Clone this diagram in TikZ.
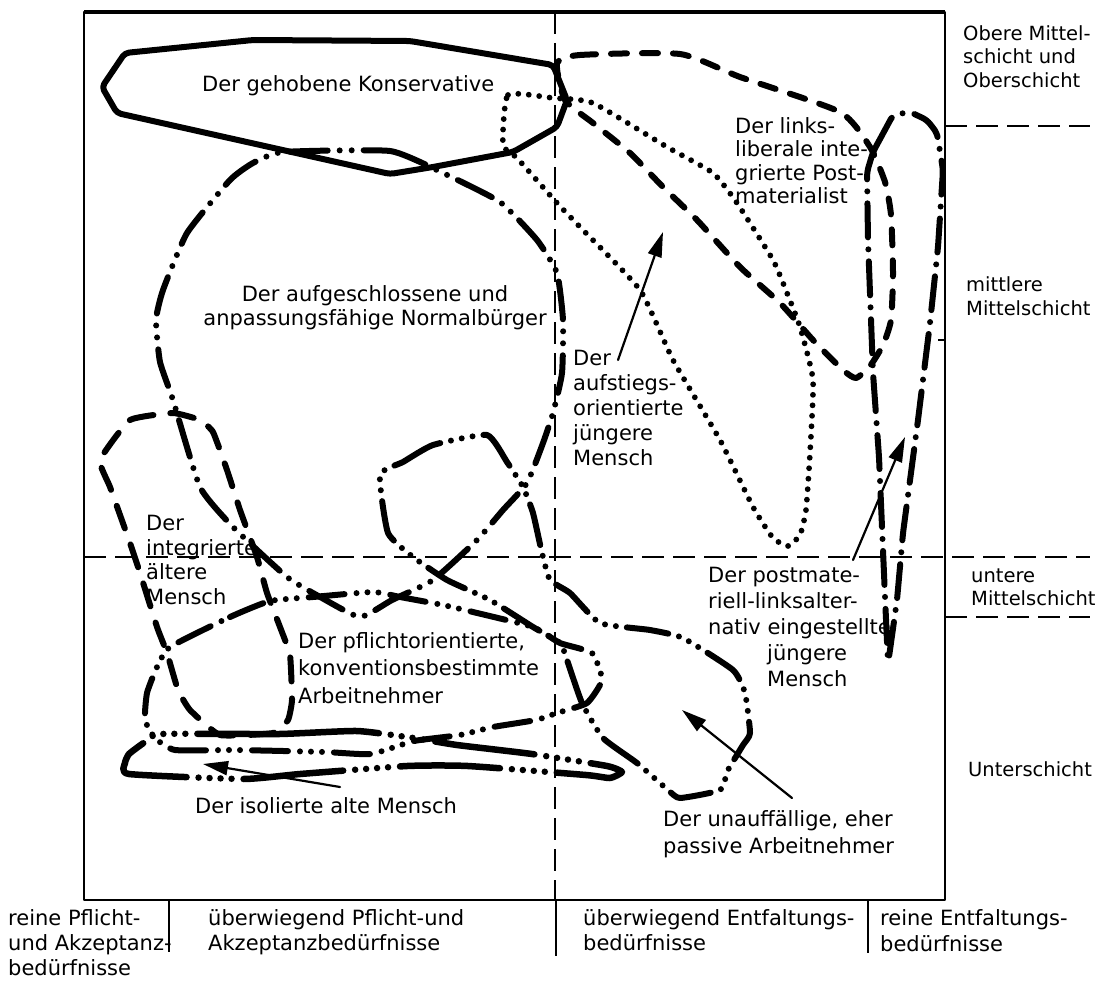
\documentclass[tikz,border=0pt]{standalone}
\usepackage{fontspec}
\setmainfont{DejaVu Sans}
\usetikzlibrary{arrows.meta}
\begin{document}
\begin{tikzpicture}[x=1pt,y=-1pt,line cap=round,line join=round]
\tikzset{
  framebox/.style={line width=2.2pt,line cap=butt},
  axisline/.style={line width=1.8pt,line cap=butt,dash pattern=on 22pt off 9pt},
  sepline/.style={line width=1.7pt,line cap=butt},
  konserv/.style={line width=6pt},
  linkslib/.style={line width=6pt,dash pattern=on 16pt off 15pt},
  aufstieg/.style={line width=5.8pt,dash pattern=on 0pt off 10.5pt},
  normalb/.style={line width=6pt,dash pattern=on 38pt off 12pt on 0pt off 12pt on 0pt off 12pt},
  postmat/.style={line width=6pt,dash pattern=on 34pt off 12pt on 0pt off 12pt},
  integr/.style={line width=6pt,dash pattern=on 24pt off 17pt},
  pflicht/.style={line width=6pt,dash pattern=on 36pt off 12pt on 0pt off 11pt on 0pt off 11pt on 0pt off 12pt},
  isoliert/.style={line width=6.5pt,dash pattern=on 100pt off 12pt on 0pt off 11pt on 0pt off 11pt on 0pt off 11pt on 0pt off 12pt},
  unauff/.style={line width=6pt,dash pattern=on 42pt off 11pt on 0pt off 11pt on 0pt off 11pt on 0pt off 11pt},
  pointer/.style={line width=2.2pt,-{Triangle[length=25pt,width=14pt]}},
  lbl/.style={inner sep=0pt,anchor=north west,align=left,font=\fontsize{21}{24.5}\selectfont},
  sidelbl/.style={lbl,font=\fontsize{19.5}{23.5}\selectfont},
}
\useasboundingbox (0,0) rectangle (1102,982);

% frame and axes
\draw[framebox] (84,12) rectangle (945,900);
\draw[line width=3.2pt,line cap=butt] (84,12) -- (945,12);
\coordinate (vtop) at (555,12);
\coordinate (vbot) at (555,900);
\coordinate (hleft) at (84,557);
\coordinate (hright) at (1090,557);
\draw[axisline] (vtop) -- (vbot);
\draw[axisline] (hleft) -- (hright);
\draw[axisline] (945,126) -- (1090,126);
\draw[axisline] (945,617) -- (1090,617);
\draw[sepline] (938,340) -- (945,340);
\draw[sepline] (169,900) -- (169,952);
\draw[sepline] (556,900) -- (556,956);
\draw[sepline] (868,900) -- (868,953);

% A: Der gehobene Konservative
\draw[konserv,rounded corners=4pt] (125,53) -- (253,40) -- (410,41) -- (553,65) -- (567,100)
  -- (557,127) -- (513,152) -- (433,167) -- (390,174) -- (117,113) -- (102,87) -- cycle;

% B: links-liberale integrierte Postmaterialist
\draw[linkslib] plot[smooth cycle,tension=0.35] coordinates {
  (557,63) (580,55) (680,54) (740,77) (840,112) (870,147) (885,182) (891,215) (893,273)
  (891,320) (883,345) (870,366) (856,378) (843,370) (813,340) (780,303) (740,267)
  (697,220) (663,187) (630,153) (593,123) (565,100)};

% C: aufstiegsorientierte juengere Mensch
\draw[aufstieg] plot[smooth cycle,tension=0.3] coordinates {
  (503,145) (508,95) (553,98) (593,103) (667,147) (713,173) (737,203) (773,260)
  (787,293) (800,327) (813,380) (810,453) (806,510) (800,535) (788,546) (773,538)
  (753,507) (720,440) (673,360) (640,290) (580,227) (557,203) (517,158)};

% D: aufgeschlossene und anpassungsfaehige Normalbuerger
\draw[normalb] plot[smooth cycle,tension=0.3] coordinates {
  (283,152) (390,151) (443,173) (500,202) (537,240) (557,273) (563,320) (562,373)
  (553,413) (543,443) (527,483) (503,510) (477,540) (433,580) (392,600) (360,617)
  (322,598) (287,577) (233,527) (200,487) (173,400) (160,362) (156,320) (163,290)
  (187,233) (230,180) (253,163)};

% E: postmateriell-linksalternativ eingestellte juengere Mensch
\draw[postmat,rounded corners=5pt] (873,152) -- (893,115) -- (910,112) -- (927,120) -- (937,133)
  -- (943,170) -- (938,247) -- (930,323) -- (918,420) -- (903,533) -- (897,600) -- (888,664)
  -- (885,597) -- (879,457) -- (873,373) -- (868,240) -- (867,172) -- cycle;

% F: integrierte aeltere Mensch
\draw[integr] plot[smooth cycle,tension=0.25] coordinates {
  (100,460) (130,420) (173,413) (200,420) (213,432) (227,470) (240,510) (257,557)
  (267,593) (280,627) (290,655) (292,700) (288,720) (273,733) (220,735) (190,710)
  (178,690) (167,653) (157,627) (140,573) (130,543) (110,487)};

% G: pflichtorientierte, konventionsbestimmte Arbeitnehmer
\draw[pflicht] plot[smooth cycle,tension=0.3] coordinates {
  (170,647) (230,617) (270,601) (313,597) (373,592) (400,597) (443,605) (473,612)
  (533,627) (560,643) (592,653) (602,680) (587,703) (557,713) (536,720) (493,727)
  (460,735) (414,741) (371,754) (325,752) (236,750) (175,750) (155,738) (145,720)
  (147,693) (157,667)};

% H: isolierte alte Mensch
\draw[isoliert] plot[smooth cycle,tension=0.3] coordinates {
  (161,734) (279,734) (357,731) (414,738) (457,745) (532,754) (607,766) (622,772)
  (610,778) (586,775) (468,766) (407,766) (300,774) (243,779) (129,774) (125,763)
  (129,754) (145,742)};

% I: unauffaellige, eher passive Arbeitnehmer
\draw[unauff] plot[smooth cycle,tension=0.3] coordinates {
  (380,475) (403,462) (433,445) (487,435) (507,462) (523,487) (533,513) (542,553)
  (550,580) (570,593) (600,623) (650,630) (683,638) (733,670) (745,693) (750,733)
  (743,745) (728,770) (720,790) (680,798) (668,790) (637,763) (603,738) (582,703)
  (567,660) (560,643) (533,627) (490,600) (447,580) (413,557) (388,533)};

% labels
\node[lbl] (kons) at (202,75) {Der gehobene Konservative};
\node[lbl,anchor=north,align=center] (norm) at (375,285) {Der aufgeschlossene und\\anpassungsfähige Normalbürger};
\node[lbl,font=\fontsize{21}{23.5}\selectfont] (links) at (735,117) {Der links-\\liberale inte-\\grierte Post-\\materialist};
\node[lbl,font=\fontsize{21}{25}\selectfont] (aufst) at (573,350) {Der\\aufstiegs-\\orientierte\\jüngere\\Mensch};
\node[lbl,font=\fontsize{21}{24.7}\selectfont] (integ) at (146,515) {Der\\integrierte\\ältere\\Mensch};
\node[lbl,font=\fontsize{21}{27.5}\selectfont] (pfl) at (298,632) {Der pflichtorientierte,\\konventionsbestimmte\\Arbeitnehmer};
\node[lbl] (isol) at (195,797) {Der isolierte alte Mensch};
\node[lbl,font=\fontsize{21}{26}\selectfont] (postm) at (708,567) {Der postmate-\\riell-linksalter-\\nativ eingestellte\\\hspace*{59pt}jüngere\\\hspace*{59pt}Mensch};
\node[lbl,font=\fontsize{21}{27}\selectfont] (unauf) at (663,810) {Der unauffällige, eher\\passive Arbeitnehmer};
\node[sidelbl] (ober) at (963,25) {Obere Mittel-\\schicht und\\Oberschicht};
\node[sidelbl,font=\fontsize{19.5}{24}\selectfont] (mitt) at (966,276) {mittlere\\Mittelschicht};
\node[sidelbl,font=\fontsize{19.5}{23}\selectfont] (unt) at (971,569) {untere\\Mittelschicht};
\node[sidelbl] (unter) at (968,761) {Unterschicht};
\node[lbl,font=\fontsize{21}{25}\selectfont] (b1) at (8,909) {reine Pflicht-\\und Akzeptanz-\\bedürfnisse};
\node[lbl,font=\fontsize{21}{25}\selectfont] (b2) at (208,909) {überwiegend Pflicht-und\\Akzeptanzbedürfnisse};
\node[lbl,font=\fontsize{21}{25}\selectfont] (b3) at (583,909) {überwiegend Entfaltungs-\\bedürfnisse};
\node[lbl,font=\fontsize{21}{26}\selectfont] (b4) at (880,909) {reine Entfaltungs-\\bedürfnisse};

% arrows
\coordinate (aufstT) at (618,360);
\coordinate (aufstH) at (663,232);
\draw[pointer] (aufstT) -- (aufstH);
\coordinate (postT) at (853,560);
\coordinate (postH) at (905,437);
\draw[pointer] (postT) -- (postH);
\coordinate (isolT) at (340,787);
\coordinate (isolH) at (203,764);
\draw[pointer] (isolT) -- (isolH);
\coordinate (unaufT) at (792,798);
\coordinate (unaufH) at (682,710);
\draw[pointer] (unaufT) -- (unaufH);
\end{tikzpicture}
\end{document}
